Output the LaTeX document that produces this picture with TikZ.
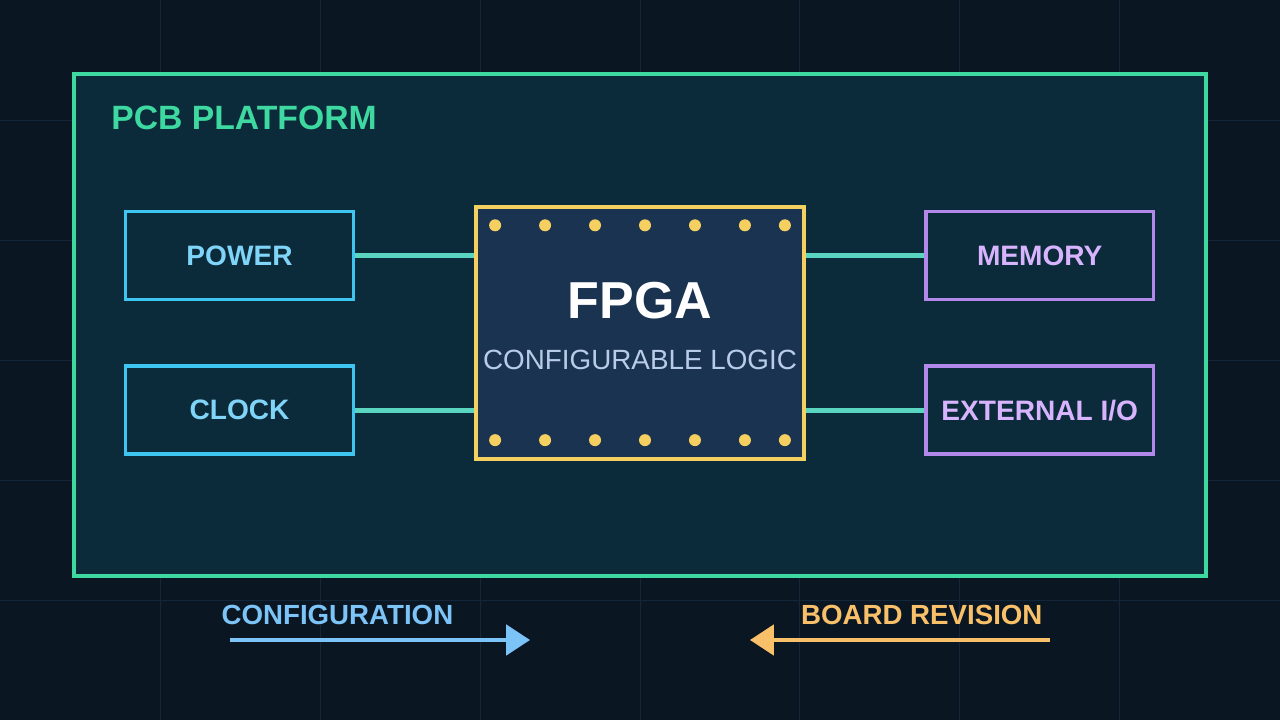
\documentclass[tikz,border=0pt]{standalone}
\usepackage{fontspec}
\setmainfont{Liberation Sans}
\usetikzlibrary{arrows.meta}
\definecolor{bgcol}{HTML}{0A1622}
\definecolor{gridcol}{HTML}{13263A}
\definecolor{pcbline}{HTML}{3DD9A0}
\definecolor{pcbfill}{HTML}{0B2A3A}
\definecolor{blueline}{HTML}{3EC6F0}
\definecolor{bluetext}{HTML}{7FD4F7}
\definecolor{purpline}{HTML}{B388EB}
\definecolor{purptext}{HTML}{D8B4FE}
\definecolor{chipline}{HTML}{F5CF5F}
\definecolor{chipfill}{HTML}{1A3350}
\definecolor{subtext}{HTML}{B8CCE8}
\definecolor{wirecol}{HTML}{5AD6C0}
\definecolor{cfgcol}{HTML}{7CC4F8}
\definecolor{revcol}{HTML}{F9C06A}
\tikzset{
	block/.style = {draw = #1, line width = 2.6pt, fill = pcbfill, minimum width = 5.7cm, minimum height = 2.2cm, font = \fontsize{20}{24}\selectfont\bfseries},
	wire/.style = {wirecol, line width = 3.5pt},
	pin/.style = {circle, fill = chipline, inner sep = 0pt, minimum size = 0.3cm}
}
\begin{document}
\begin{tikzpicture}
	\fill [bgcol] (0, 0) rectangle (32, 18);
	\foreach \x in {4, 8, ..., 28} \draw [gridcol, line width = 0.7pt] (\x, 0) -- (\x, 18);
	\foreach \y in {3, 6, ..., 15} \draw [gridcol, line width = 0.7pt] (0, \y) -- (32, \y);

	\draw [pcbline, fill = pcbfill, line width = 2.8pt] (1.85, 3.6) rectangle (30.15, 16.15);
	\node [pcbline, anchor = west, font = \fontsize{24}{29}\selectfont\bfseries] (title) at (2.65, 15.05) {PCB PLATFORM};

	\node [block = blueline, text = bluetext] (power) at (5.98, 11.62) {POWER};
	\node [block = blueline, text = bluetext] (clock) at (5.98, 7.75) {CLOCK};
	\node [block = purpline, text = purptext] (memory) at (26.0, 11.62) {MEMORY};
	\node [block = purpline, text = purptext] (extio) at (26.0, 7.75) {EXTERNAL I/O};

	\node [draw = chipline, line width = 2.6pt, fill = chipfill, minimum width = 8.2cm, minimum height = 6.3cm] (fpga) at (16.0, 9.675) {};
	\node [white, font = \fontsize{37}{44}\selectfont\bfseries] (name) at (16.0, 10.5) {FPGA};
	\node [subtext, font = \fontsize{19.8}{24}\selectfont] (logic) at (16.0, 9.0) {CONFIGURABLE LOGIC};
	\foreach \x in {12.375, 13.625, 14.875, 16.125, 17.375, 18.625, 19.625} {
		\node [pin] at (\x, 12.375) {};
		\node [pin] at (\x, 7.0) {};
	}

	\draw [wire] (power.east) -- (power.east -| fpga.west);
	\draw [wire] (clock.east) -- (clock.east -| fpga.west);
	\draw [wire] (memory.west) -- (memory.west -| fpga.east);
	\draw [wire] (extio.west) -- (extio.west -| fpga.east);

	\node [cfgcol, font = \fontsize{19.7}{24}\selectfont\bfseries] (cfg) at (8.43, 2.62) {CONFIGURATION};
	\node [revcol, font = \fontsize{19.7}{24}\selectfont\bfseries] (rev) at (23.05, 2.62) {BOARD REVISION};
	\coordinate (cfgs) at (5.75, 2.0);
	\coordinate (cfge) at (13.25, 2.0);
	\coordinate (revs) at (26.25, 2.0);
	\coordinate (reve) at (18.75, 2.0);
	\draw [cfgcol, line width = 3.5pt, -{Triangle[length = 0.6cm, width = 0.75cm]}] (cfgs) -- (cfge);
	\draw [revcol, line width = 3.5pt, -{Triangle[length = 0.6cm, width = 0.75cm]}] (revs) -- (reve);
\end{tikzpicture}
\end{document}
